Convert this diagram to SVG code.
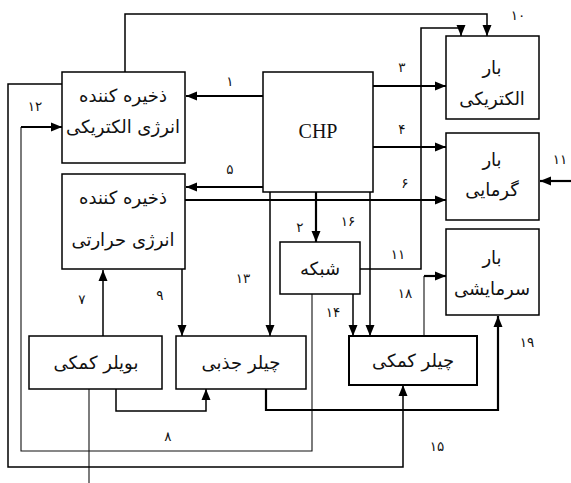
<svg xmlns="http://www.w3.org/2000/svg" width="571" height="483" viewBox="0 0 571 483">
<defs>
<marker id="ah" markerUnits="userSpaceOnUse" markerWidth="12" markerHeight="12" viewBox="0 0 12 12" refX="11" refY="6" orient="auto">
<path d="M0,1.5 L11,6 L0,10.5 Z" fill="#000"/>
</marker>
<style>
.box{fill:#fff;stroke:#000;stroke-width:1.5}
.fa{font-family:"DejaVu Sans","Noto Sans",sans-serif;font-size:18px;fill:#111;text-anchor:middle;direction:rtl}
.num{font-family:"DejaVu Sans","Noto Sans",sans-serif;font-size:13.5px;fill:#111;text-anchor:middle}
.en{font-family:"Liberation Serif",serif;font-size:20px;fill:#111;text-anchor:middle}
.c{fill:none;stroke:#000;stroke-width:1.5}
.t{fill:none;stroke:#000;stroke-width:2.2}
.n{fill:none;stroke:#111;stroke-width:1.1}
</style>
</defs>
<rect width="571" height="483" fill="#fff"/>
<g id="connectors">
<path class="t" d="M263,96 H186" marker-end="url(#ah)"/>
<path class="t" d="M316,192 V242" marker-end="url(#ah)"/>
<path class="t" d="M373,86 H446" marker-end="url(#ah)"/>
<path class="t" d="M373,147 H446" marker-end="url(#ah)"/>
<path class="t" d="M263,187 H186" marker-end="url(#ah)"/>
<path class="t" d="M185,200 H446" marker-end="url(#ah)"/>
<path class="c" d="M103,336 V270" marker-end="url(#ah)"/>
<path class="n" d="M89,389 V483"/>
<path class="c" d="M182,269 V336" marker-end="url(#ah)"/>
<path class="c" d="M125,72 V14 H487 V36" marker-end="url(#ah)"/>
<path class="c" d="M360,269 H421 V28 H461 V36" marker-end="url(#ah)"/>
<path class="t" d="M571,181 H540" marker-end="url(#ah)"/>
<path class="n" d="M312,294 V451 H21 V127"/>
<path class="t" d="M21,127 H62" marker-end="url(#ah)"/>
<path class="c" d="M270,192 V336" marker-end="url(#ah)"/>
<path class="c" d="M353,294 V336" marker-end="url(#ah)"/>
<path class="c" d="M62,84 H8 V467 H403 V385" marker-end="url(#ah)"/>
<path class="c" d="M370,192 V336" marker-end="url(#ah)"/>
<path class="n" d="M424,336 V276"/>
<path class="t" d="M424,276 H446" marker-end="url(#ah)"/>
<path class="t" d="M266,389 V410 H498 V316" marker-end="url(#ah)"/>
<path class="c" d="M116,389 V411 H206 V389" marker-end="url(#ah)"/>
</g>
<g id="labels">
<text class="num" x="230" y="86">۱</text>
<text class="num" x="518" y="20">۱۰</text>
<text class="num" x="35" y="111">۱۲</text>
<text class="num" x="402" y="72">۳</text>
<text class="num" x="402" y="134">۴</text>
<text class="num" x="560" y="164">۱۱</text>
<text class="num" x="230" y="174">۵</text>
<text class="num" x="405" y="188">۶</text>
<text class="num" x="300" y="232">۲</text>
<text class="num" x="348" y="226">۱۶</text>
<text class="num" x="398" y="259">۱۱</text>
<text class="num" x="243" y="283">۱۳</text>
<text class="num" x="405" y="298">۱۸</text>
<text class="num" x="333" y="317">۱۴</text>
<text class="num" x="82" y="304">۷</text>
<text class="num" x="160" y="300">۹</text>
<text class="num" x="527" y="347">۱۹</text>
<text class="num" x="168" y="441">۸</text>
<text class="num" x="437" y="451">۱۵</text>
</g>
<g id="elec-storage">
<rect class="box" x="62" y="72" width="123" height="91"/>
<text class="fa" x="123" y="102">ذخیره کننده</text>
<text class="fa" x="123" y="133">انرژی الکتریکی</text>
</g>
<g id="chp">
<rect class="box" x="263" y="72" width="110" height="120"/>
<text class="en" x="318" y="138">CHP</text>
</g>
<g id="thermal-storage">
<rect class="box" x="62" y="174" width="123" height="95"/>
<text class="fa" x="123" y="204">ذخیره کننده</text>
<text class="fa" x="123" y="246">انرژی حرارتی</text>
</g>
<g id="elec-load">
<rect class="box" x="446" y="36" width="93" height="83"/>
<text class="fa" x="492" y="74">بار</text>
<text class="fa" x="492" y="105">الکتریکی</text>
</g>
<g id="heat-load">
<rect class="box" x="446" y="133" width="93" height="87"/>
<text class="fa" x="492" y="166">بار</text>
<text class="fa" x="492" y="196">گرمایی</text>
</g>
<g id="cool-load">
<rect class="box" x="446" y="229" width="93" height="86"/>
<text class="fa" x="492" y="264">بار</text>
<text class="fa" x="492" y="295">سرمایشی</text>
</g>
<g id="grid">
<rect class="box" x="280" y="242" width="80" height="52"/>
<text class="fa" x="320" y="275">شبکه</text>
</g>
<g id="boiler">
<rect class="box" x="29" y="336" width="133" height="53"/>
<text class="fa" x="96" y="369">بویلر کمکی</text>
</g>
<g id="abs-chiller">
<rect class="box" x="176" y="336" width="130" height="53"/>
<text class="fa" x="241" y="369">چیلر جذبی</text>
</g>
<g id="aux-chiller">
<rect class="box" x="349" y="336" width="128" height="49" style="stroke-width:2"/>
<text class="fa" x="413" y="367">چیلر کمکی</text>
</g>
</svg>
